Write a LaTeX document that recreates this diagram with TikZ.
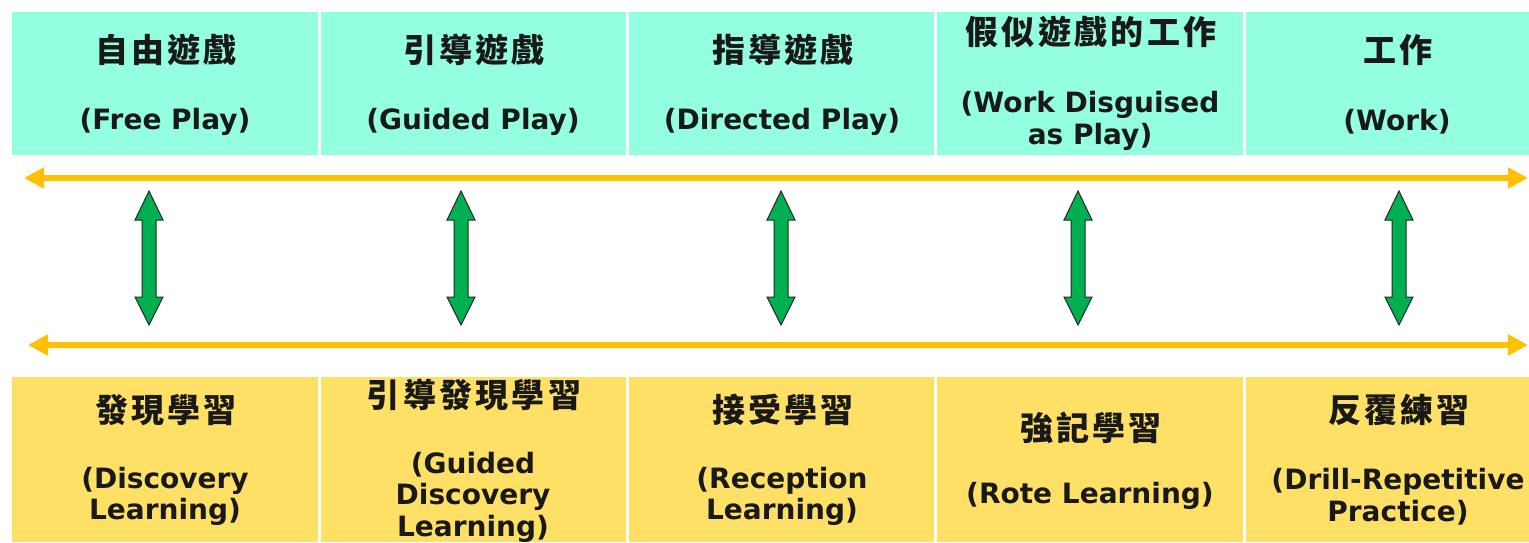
\documentclass[tikz,border=0pt]{standalone}
\usepackage{fontspec}
\setmainfont{DejaVu Sans}
\newfontfamily\cjk[LetterSpace=10]{Noto Sans CJK TC}
\usetikzlibrary{arrows.meta}
\definecolor{topfill}{RGB}{147,255,224}
\definecolor{botfill}{RGB}{255,224,102}
\definecolor{yarr}{RGB}{255,192,0}
\definecolor{garr}{RGB}{0,176,80}
\tikzset{
  topbox/.style={fill=topfill, draw=none, anchor=north west, inner sep=0, minimum height=143pt},
  botbox/.style={fill=botfill, draw=none, anchor=north west, inner sep=0, minimum height=165pt},
  cjktext/.style={font=\cjk\bfseries\fontsize{33}{35}\selectfont, inner sep=0, text=black!90},
  entext/.style={font=\bfseries\fontsize{28}{31.5}\selectfont, inner sep=0, align=center, text=black!90},
  yline/.style={draw=yarr, line width=6pt, {Triangle[length=20pt,width=20pt]}-{Triangle[length=20pt,width=20pt]}},
  garrow/.style={fill=garr, draw=black!85, line width=1pt, line join=miter}
}
\begin{document}
\begin{tikzpicture}[x=1pt,y=-1pt]
\useasboundingbox (0,0) rectangle (1529,542);
% top boxes
\node[topbox, minimum width=306pt] (t1) at (12,12) {};
\node[topbox, minimum width=305pt] (t2) at (321,12) {};
\node[topbox, minimum width=305pt] (t3) at (629,12) {};
\node[topbox, minimum width=306pt] (t4) at (937,12) {};
\node[topbox, minimum width=283pt] (t5) at (1246,12) {};
% bottom boxes
\node[botbox, minimum width=306pt] (b1) at (12,377) {};
\node[botbox, minimum width=305pt] (b2) at (321,377) {};
\node[botbox, minimum width=305pt] (b3) at (629,377) {};
\node[botbox, minimum width=306pt] (b4) at (937,377) {};
\node[botbox, minimum width=283pt] (b5) at (1246,377) {};
% top texts
\node[cjktext] (tc1) at (166,50) {自由遊戲};
\node[entext] (te1) at (165,122) {(Free Play)};
\node[cjktext] (tc2) at (474,50) {引導遊戲};
\node[entext] (te2) at (473,122) {(Guided Play)};
\node[cjktext] (tc3) at (783,50) {指導遊戲};
\node[entext] (te3) at (782,122) {(Directed Play)};
\node[cjktext] (tc4) at (1091,32) {假似遊戲的工作};
\node[entext] (te4) at (1090,121) {(Work Disguised\\as Play)};
\node[cjktext] (tc5) at (1398,50) {工作};
\node[entext] (te5) at (1397,122) {(Work)};
% bottom texts
\node[cjktext] (bc1) at (166,410) {發現學習};
\node[entext] (be1) at (165,496.5) {(Discovery\\Learning)};
\node[cjktext] (bc2) at (474,395) {引導發現學習};
\node[entext] (be2) at (473,497) {(Guided\\Discovery\\Learning)};
\node[cjktext] (bc3) at (783,410) {接受學習};
\node[entext] (be3) at (782,496.5) {(Reception\\Learning)};
\node[cjktext] (bc4) at (1091,428) {強記學習};
\node[entext] (be4) at (1090,496) {(Rote Learning)};
\node[cjktext] (bc5) at (1399,410) {反覆練習};
\node[entext] (be5) at (1398,496.5) {(Drill-Repetitive\\Practice)};
% yellow arrows
\coordinate (ya1) at (24,178);
\coordinate (yb1) at (1528,178);
\coordinate (ya2) at (28,345);
\coordinate (yb2) at (1528,345);
\draw[yline] (ya1) -- (yb1);
\draw[yline] (ya2) -- (yb2);
% green double arrows
\foreach \i/\x in {1/149,2/461,3/781,4/1078,5/1399}{
  \coordinate (g\i t) at (\x,191);
  \coordinate (g\i b) at (\x,325);
  \draw[garrow] (g\i t) -- ++(14,29) -- ++(-7,0) -- ++(0,77) -- ++(7,0)
    -- (g\i b) -- ++(-14,-28) -- ++(7,0) -- ++(0,-77) -- ++(-7,0) -- cycle;
}
\end{tikzpicture}
\end{document}
